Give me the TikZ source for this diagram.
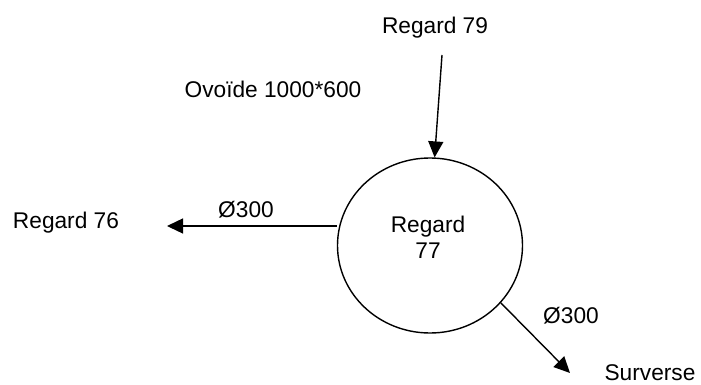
\documentclass[tikz,border=0pt]{standalone}
\usepackage{fontspec}
\setmainfont{Liberation Sans}
\usetikzlibrary{shapes.geometric,arrows.meta}
\begin{document}
\begin{tikzpicture}[x=1pt,y=-1pt,
  lbl/.style={inner sep=0pt,anchor=base,font=\fontsize{22.7}{26}\selectfont},
  conn/.style={line width=1.4pt,-{Triangle[length=16pt,width=15pt]}},
  manhole/.style={draw,line width=1.4pt,ellipse,minimum width=185pt,minimum height=175pt,inner sep=0pt}]
\useasboundingbox (0,0) rectangle (701,385);
\node[manhole] (c) at (430,245.5) {};
\node[lbl,align=center,anchor=center] (ct) at (428,237) {Regard\\77};
\node[lbl] (r79) at (435,34) {Regard 79};
\node[lbl] (ov) at (273,98) {Ovoïde 1000*600};
\node[lbl] (r76) at (66,228) {Regard 76};
\node[lbl] (d1) at (246,217) {Ø300};
\node[lbl] (d2) at (571,323) {Ø300};
\node[lbl] (sv) at (650,380) {Surverse};
\coordinate (a79) at (442,55);
\coordinate (t76) at (167,226);
\coordinate (tsv) at (570,373);
\draw[conn] (a79) -- (c.87);
\draw[conn] (c.west |- t76) -- (t76);
\draw[conn] (c.-39) -- (tsv);
\end{tikzpicture}
\end{document}
